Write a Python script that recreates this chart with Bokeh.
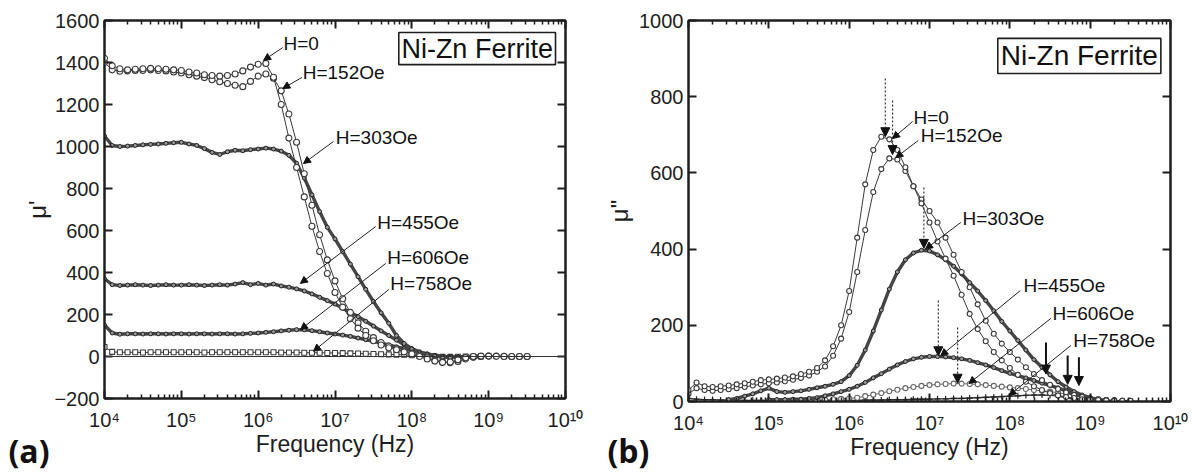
import numpy as np
from bokeh.plotting import figure
from bokeh.models import (ColumnDataSource, FixedTicker, LinearAxis, LogAxis, Label,
                          Arrow, NormalHead, Span, CustomJSTickFormatter, BoxAnnotation,
                          Title)
from bokeh.layouts import row
from bokeh.embed import file_html
from bokeh.resources import INLINE

# ---------------- data (log10 of frequency in Hz) ----------------
LOG_F = [4.0, 4.1, 4.2, 4.3, 4.4, 4.5, 4.6, 4.7, 4.8, 4.9,
         5.0, 5.1, 5.2, 5.3, 5.4, 5.5, 5.6, 5.7, 5.8, 5.9,
         6.0, 6.1, 6.2, 6.3, 6.4, 6.5, 6.6, 6.7, 6.8, 6.9,
         7.0, 7.1, 7.2, 7.3, 7.4, 7.5, 7.6, 7.7, 7.8, 7.9,
         8.0, 8.1, 8.2, 8.3, 8.4, 8.5, 8.6, 8.7, 8.8, 8.9,
         9.0, 9.1, 9.2, 9.3, 9.4, 9.5]

SERIES = ["H=0", "H=152Oe", "H=303Oe", "H=455Oe", "H=606Oe", "H=758Oe"]

# (a) real part mu'
MU1_H0 = [1420, 1385, 1370, 1365, 1368, 1370, 1372, 1370, 1368, 1365,
          1362, 1355, 1350, 1342, 1338, 1335, 1338, 1345, 1360, 1378,
          1392, 1395, 1330, 1200, 1040, 900, 760, 620, 500, 395,
          305, 235, 180, 135, 100, 75, 55, 42, 32, 22,
          12, 0, -12, -22, -28, -26, -16, -6, 0, 2,
          2, 1, 0, 0, 0, 0]
MU1_H152 = [1400, 1365, 1358, 1360, 1362, 1362, 1365, 1362, 1360, 1355,
            1350, 1342, 1335, 1328, 1318, 1308, 1300, 1292, 1285, 1310,
            1335, 1345, 1325, 1265, 1155, 1020, 870, 720, 580, 460,
            360, 275, 210, 160, 120, 90, 67, 50, 37, 26,
            16, 6, -6, -18, -26, -30, -24, -12, -4, 0,
            2, 2, 1, 0, 0, 0]
MU1_H303 = [1050, 1005, 1000, 1002, 1005, 1008, 1010, 1012, 1015, 1018,
            1020, 1012, 1005, 990, 972, 962, 975, 982, 980, 985,
            988, 992, 988, 978, 958, 920, 850, 770, 690, 615,
            560, 500, 440, 380, 320, 262, 208, 158, 100, 62,
            36, 18, 8, 2, -3, -5, -3, -1, 0, 0,
            None, None, None, None, None, None]
MU1_H455 = [370, 342, 338, 340, 342, 340, 338, 340, 342, 340,
            340, 342, 340, 338, 340, 342, 340, 345, 352, 342,
            348, 340, 345, 336, 330, 322, 312, 298, 282, 266,
            250, 230, 210, 190, 168, 145, 122, 100, 78, 56,
            38, 22, 12, 5, 0, -3, -3, -1, 0, 0,
            None, None, None, None, None, None]
MU1_H606 = [150, 112, 106, 108, 108, 107, 108, 108, 107, 108,
            108, 107, 108, 108, 107, 108, 108, 107, 108, 110,
            112, 115, 118, 122, 125, 128, 127, 123, 118, 112,
            107, 102, 96, 88, 80, 72, 64, 55, 46, 38,
            29, 20, 12, 5, 0, -3, -2, -1, 0, 0,
            None, None, None, None, None, None]
MU1_H758 = [45, 22, 20, 20, 20, 19, 20, 20, 20, 20,
            20, 20, 20, 19, 20, 20, 20, 20, 20, 20,
            20, 20, 20, 19, 19, 19, 18, 18, 18, 17,
            17, 16, 15, 14, 13, 12, 11, 10, 9, 8,
            6, 4, 2, 0, -2, -2, -1, 0, 0, 0,
            None, None, None, None, None, None]

# (b) imaginary part mu''
MU2_H0 = [30, 50, 40, 38, 40, 42, 45, 48, 52, 56,
          58, 60, 63, 66, 72, 78, 88, 108, 145, 200,
          290, 430, 570, 660, 695, 688, 660, 615, 565, 520,
          470, 420, 375, 330, 280, 230, 190, 158, 130, 108,
          88, 70, 52, 40, 30, 22, 16, 12, 9, 6,
          5, 4, 3, 2, 2, 2]
MU2_H152 = [20, 35, 30, 28, 30, 32, 35, 38, 42, 45,
            48, 50, 53, 57, 62, 68, 78, 92, 120, 165,
            235, 340, 450, 550, 610, 638, 635, 605, 565, 530,
            500, 470, 430, 385, 340, 300, 255, 212, 178, 152,
            130, 110, 90, 72, 56, 44, 33, 24, 17, 12,
            8, 6, 4, 3, 2, 2]
MU2_H303 = [None, None, None, None, None, 5, 8, 14, 20, 28,
            35, 26, 24, 26, 28, 32, 36, 40, 45, 52,
            68, 95, 135, 185, 240, 295, 340, 372, 390, 397,
            395, 385, 372, 355, 335, 312, 290, 265, 238, 210,
            185, 160, 135, 110, 90, 70, 52, 38, 26, 17,
            10, 5, 3, None, None, None]
MU2_H455 = [None, None, None, None, None, None, None, None, None, None,
            5, 5, 5, 6, 6, 8, 10, 15, 20, 26,
            32, 40, 50, 62, 73, 85, 96, 105, 112, 116,
            118, 118, 117, 115, 112, 108, 102, 96, 89, 81,
            74, 68, 62, 55, 48, 42, 36, 28, 20, 13,
            8, 5, 3, None, None, None]
MU2_H606 = [None, None, None, None, None, None, None, None, None, None,
            None, None, None, None, 2, 3, 4, 5, 6, 7,
            8, 10, 14, 18, 22, 27, 31, 35, 38, 41,
            43, 45, 46, 47, 47, 46, 45, 43, 41, 39,
            37, 35, 33, 30, 28, 26, 23, 20, 16, 12,
            9, 6, 4, 3, 2, 2]
MU2_H758 = [8, 6, 5, 5, 4, 4, 4, 3, 3, 3,
            3, 3, 3, 3, 3, 3, 3, 3, 3, 3,
            3, 3, 4, 4, 4, 5, 5, 5, 6, 6,
            6, 7, 7, 8, 8, 9, 10, 11, 12, 13,
            14, 15, 16, 17, 17, 16, 14, 10, 6, 3,
            2, 1, None, None, None, None]

X_TICK_EXP = [4, 5, 6, 7, 8, 9, 10]
Y_TICKS_A = [-200, 0, 200, 400, 600, 800, 1000, 1200, 1400, 1600]
Y_TICKS_B = [0, 200, 400, 600, 800, 1000]

# ---------------- helpers ----------------
FONT = "Liberation Sans"
INK = "#1e1e1e"
freq = 10.0 ** np.array(LOG_F)

SUP_JS = """
const s = ['\u2070','\u00b9','\u00b2','\u00b3','\u2074','\u2075','\u2076','\u2077','\u2078','\u2079'];
const e = Math.round(Math.log10(tick));
return '10' + String(e).split('').map(c => s[+c]).join('');
"""


def arr(vals):
    return np.array([np.nan if v is None else v for v in vals], dtype=float)


def style_axis(ax, show_labels=True):
    ax.axis_line_width = 2
    ax.axis_line_color = INK
    ax.major_tick_in = 8
    ax.major_tick_out = 0
    ax.major_tick_line_width = 2
    ax.major_tick_line_color = INK
    ax.minor_tick_in = 4
    ax.minor_tick_out = 0
    ax.minor_tick_line_width = 1.5
    ax.minor_tick_line_color = INK
    ax.major_label_text_font = FONT
    ax.major_label_text_color = INK
    ax.major_label_text_font_size = "20px"
    ax.major_label_standoff = 5
    if not show_labels:
        ax.formatter = CustomJSTickFormatter(code="return '';")
        ax.major_label_standoff = 0
    ax.axis_label_text_font = FONT
    ax.axis_label_text_font_style = "normal"
    ax.axis_label_text_color = INK


def x_ticker():
    minors = [k * 10.0 ** n for n in range(4, 10) for k in range(2, 10)]
    return FixedTicker(ticks=[10.0 ** e for e in X_TICK_EXP], minor_ticks=minors)


def make_fig(yr, yticks, ylabel, ylab_standoff, fw, fh, bl, br, bt, bb):
    p = figure(x_axis_type="log", x_range=(1e4, 1e10), y_range=yr,
               frame_width=fw, frame_height=fh,
               min_border_left=bl, min_border_right=br,
               min_border_top=bt, min_border_bottom=bb,
               output_backend="svg", toolbar_location=None)
    p.grid.visible = False
    p.outline_line_color = INK
    p.outline_line_width = 2
    p.background_fill_color = "white"
    p.border_fill_color = "white"
    xa = p.xaxis[0]
    xa.ticker = x_ticker()
    style_axis(xa)
    xa.formatter = CustomJSTickFormatter(code=SUP_JS)
    xa.major_label_standoff = 10
    xa.axis_label = "Frequency (Hz)"
    xa.axis_label_text_font_size = "23px"
    xa.axis_label_standoff = -3
    ya = p.yaxis[0]
    ya.ticker = FixedTicker(ticks=yticks)
    style_axis(ya)
    ya.axis_label = ylabel
    ya.axis_label_text_font_size = "24px"
    ya.axis_label_standoff = ylab_standoff
    top = LogAxis(ticker=x_ticker())
    style_axis(top, show_labels=False)
    p.add_layout(top, "above")
    right = LinearAxis(ticker=FixedTicker(ticks=yticks))
    style_axis(right, show_labels=False)
    p.add_layout(right, "right")
    return p


def open_curve(p, y, size, color="#3a3a3a", marker="circle", lw=1.0):
    src = ColumnDataSource(dict(x=freq, y=arr(y)))
    p.line("x", "y", source=src, line_color=color, line_width=lw)
    p.scatter("x", "y", source=src, marker=marker, size=size,
              fill_color="white", line_color=color, line_width=1.1)


def dense_curve(p, y, size=4):
    src = ColumnDataSource(dict(x=freq, y=arr(y)))
    p.line("x", "y", source=src, line_color="#454545", line_width=3.4)
    p.scatter("x", "y", source=src, marker="circle", size=size,
              fill_color="#999999", line_color="#222222", line_width=1)


def cross_curve(p, y):
    src = ColumnDataSource(dict(x=freq, y=arr(y)))
    p.line("x", "y", source=src, line_color="#333333", line_width=1.4)
    p.scatter("x", "y", source=src, marker="cross", size=6,
              line_color="#222222", line_width=1.2)


def leader(p, text, lx, ly, sx, sy, ex, ey):
    p.add_layout(Label(x=10 ** lx, y=ly, text=text, text_font=FONT,
                       text_font_size="19px", text_color="#111111",
                       text_align="left", text_baseline="middle"))
    p.add_layout(Arrow(x_start=10 ** sx, y_start=sy, x_end=10 ** ex, y_end=ey,
                       line_color="#222222", line_width=1,
                       end=NormalHead(size=7, fill_color="#111111",
                                      line_color="#111111")))


def ferrite_box(p, x0, x1, y0, y1, fs):
    p.add_layout(BoxAnnotation(left=10 ** x0, right=10 ** x1, bottom=y0, top=y1,
                               fill_color="white", fill_alpha=1.0,
                               line_color=INK, line_width=1.6, line_alpha=1.0))
    p.add_layout(Label(x=10 ** ((x0 + x1) / 2), y=(y0 + y1) / 2, text="Ni-Zn Ferrite",
                       text_font=FONT, text_font_size=fs, text_color="#111111",
                       text_align="center", text_baseline="middle"))


def panel_tag(p, text, offset, standoff):
    t = Title(text=text, align="left", offset=offset, vertical_align="top",
              standoff=standoff, text_font="Open Sans", text_font_style="bold",
              text_font_size="32px", text_color="#111111")
    p.add_layout(t, "below")


# ---------------- panel (a) ----------------
pa = make_fig((-200, 1600), Y_TICKS_A, "\u03bc'", 0, 461, 378, 104, 33, 20, 74)
pa.add_layout(Span(location=0, dimension="width", line_color="#333333", line_width=1))
open_curve(pa, MU1_H758, 5, marker="square")
dense_curve(pa, MU1_H606)
dense_curve(pa, MU1_H455)
dense_curve(pa, MU1_H303)
open_curve(pa, MU1_H152, 6)
open_curve(pa, MU1_H0, 6)

A_POS = [(6.33, 1490, 6.32, 1471, 6.07, 1410),
         (6.58, 1352, 6.57, 1329, 6.32, 1276),
         (7.01, 1043, 6.98, 1024, 6.59, 919),
         (7.55, 638, 7.53, 619, 6.55, 348),
         (7.68, 471, 7.66, 443, 6.55, 128),
         (7.72, 348, 7.70, 319, 6.72, 25)]
for name, pos in zip(SERIES, A_POS):
    leader(pa, name, *pos)
ferrite_box(pa, 7.83, 9.87, 1390, 1543, "27px")
panel_tag(pa, "(a)", -96, -62)

# ---------------- panel (b) ----------------
pb = make_fig((0, 1000), Y_TICKS_B, "\u03bc\"", 3, 482, 381, 90, 23, 20, 71)
cross_curve(pb, MU2_H758)
open_curve(pb, MU2_H606, 5, color="#666666")
dense_curve(pb, MU2_H455)
dense_curve(pb, MU2_H303)
open_curve(pb, MU2_H152, 5)
open_curve(pb, MU2_H0, 5)

B_POS = [(6.80, 745, 6.79, 735, 6.54, 690),
         (6.89, 698, 6.86, 685, 6.58, 640),
         (7.41, 480, 7.39, 470, 6.95, 400),
         (8.17, 304, 8.13, 291, 7.14, 120),
         (8.53, 231, 8.51, 218, 7.49, 47),
         (8.79, 160, 8.76, 147, 7.99, 16)]
for name, pos in zip(SERIES, B_POS):
    leader(pb, name, *pos)

for lx, y0, y1 in [(6.45, 848, 695), (6.54, 790, 648), (6.93, 562, 402),
                   (7.11, 265, 120), (7.35, 194, 48)]:
    pb.add_layout(Arrow(x_start=10 ** lx, y_start=y0, x_end=10 ** lx, y_end=y1,
                        line_color="#333333", line_width=1.2, line_dash="2 2",
                        end=NormalHead(size=9, fill_color="#111111", line_color="#111111")))
for lx, y0, y1 in [(8.45, 155, 72), (8.72, 121, 45), (8.86, 116, 42)]:
    pb.add_layout(Arrow(x_start=10 ** lx, y_start=y0, x_end=10 ** lx, y_end=y1,
                        line_color="#111111", line_width=2,
                        end=NormalHead(size=9, fill_color="#111111", line_color="#111111")))
ferrite_box(pb, 7.85, 9.88, 861, 953, "28px")
panel_tag(pb, "(b)", -81, -68)

layout = row(pa, pb)
open("out.html", "w").write(file_html(layout, INLINE))
